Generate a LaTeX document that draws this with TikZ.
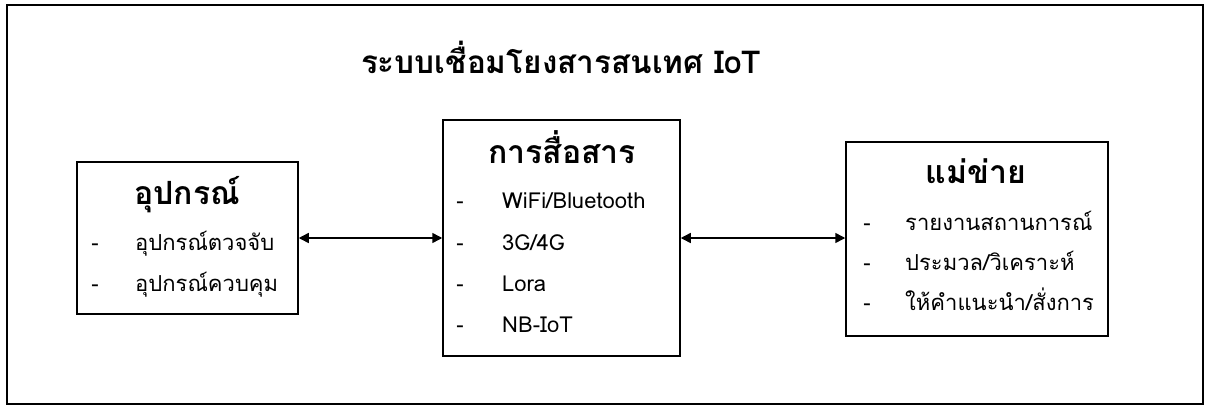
\documentclass[tikz,border=0pt]{standalone}
\usepackage{fontspec}
\setmainfont[Script=Thai]{Loma}
\usetikzlibrary{arrows.meta}
\begin{document}
\begin{tikzpicture}[x=1pt,y=-1pt,
  box/.style={draw, line width=1.5pt, inner sep=0pt},
  frame/.style={draw, line width=2pt, inner sep=0pt},
  ttl/.style={anchor=base, inner sep=0pt, font=\fontsize{32}{36}\selectfont\bfseries},
  bigttl/.style={anchor=base, inner sep=0pt, font=\fontsize{31.5}{36}\selectfont\bfseries},
  itm/.style={anchor=base west, inner sep=0pt, font=\fontsize{22}{26}\selectfont},
  dsh/.style={anchor=base, inner sep=0pt, font=\fontsize{22}{26}\selectfont},
  link/.style={line width=1.5pt, {Triangle[length=10pt,width=10pt]}-{Triangle[length=10pt,width=10pt]}}]
\useasboundingbox (0,0) rectangle (1207,407);
\node[frame, minimum width=1196pt, minimum height=399pt] (outer) at (605,204.5) {};
\node[bigttl] (title) at (561,73) {ระบบเชื่อมโยงสารสนเทศ IoT};
% boxes
\node[box, minimum width=221pt, minimum height=152pt] (dev) at (187.5,238) {};
\node[box, minimum width=237pt, minimum height=236pt] (com) at (561.5,238) {};
\node[box, minimum width=262pt, minimum height=194pt] (srv) at (977,239) {};
% left box text
\node[ttl] (devt) at (187,204) {อุปกรณ์};
\node[dsh] (d1) at (95,250) {-};
\node[itm] (i1) at (135,250) {อุปกรณ์ตวจจับ};
\node[dsh] (d2) at (95,291) {-};
\node[itm] (i2) at (135,291) {อุปกรณ์ควบคุม};
% center box text
\node[ttl] (comt) at (562,163) {การสื่อสาร};
\node[dsh] (c1d) at (460,208) {-};
\node[itm] (c1) at (502,208) {WiFi/Bluetooth};
\node[dsh] (c2d) at (460,250) {-};
\node[itm] (c2) at (502,250) {3G/4G};
\node[dsh] (c3d) at (460,291) {-};
\node[itm] (c3) at (502,291) {Lora};
\node[dsh] (c4d) at (460,332) {-};
\node[itm] (c4) at (502,332) {NB-IoT};
% right box text
\node[ttl] (srvt) at (976,183) {แม่ข่าย};
\node[dsh] (s1d) at (867,230) {-};
\node[itm] (s1) at (905,230) {รายงานสถานการณ์};
\node[dsh] (s2d) at (867,270) {-};
\node[itm] (s2) at (905,270) {ประมวล/วิเคราะห์};
\node[dsh] (s3d) at (867,310) {-};
\node[itm] (s3) at (905,310) {ให้คำแนะนำ/สั่งการ};
% arrows
\draw[link] (dev.east |- 0,238) -- (com.west |- 0,238);
\draw[link] (com.east |- 0,238) -- (srv.west |- 0,238);
\end{tikzpicture}
\end{document}
